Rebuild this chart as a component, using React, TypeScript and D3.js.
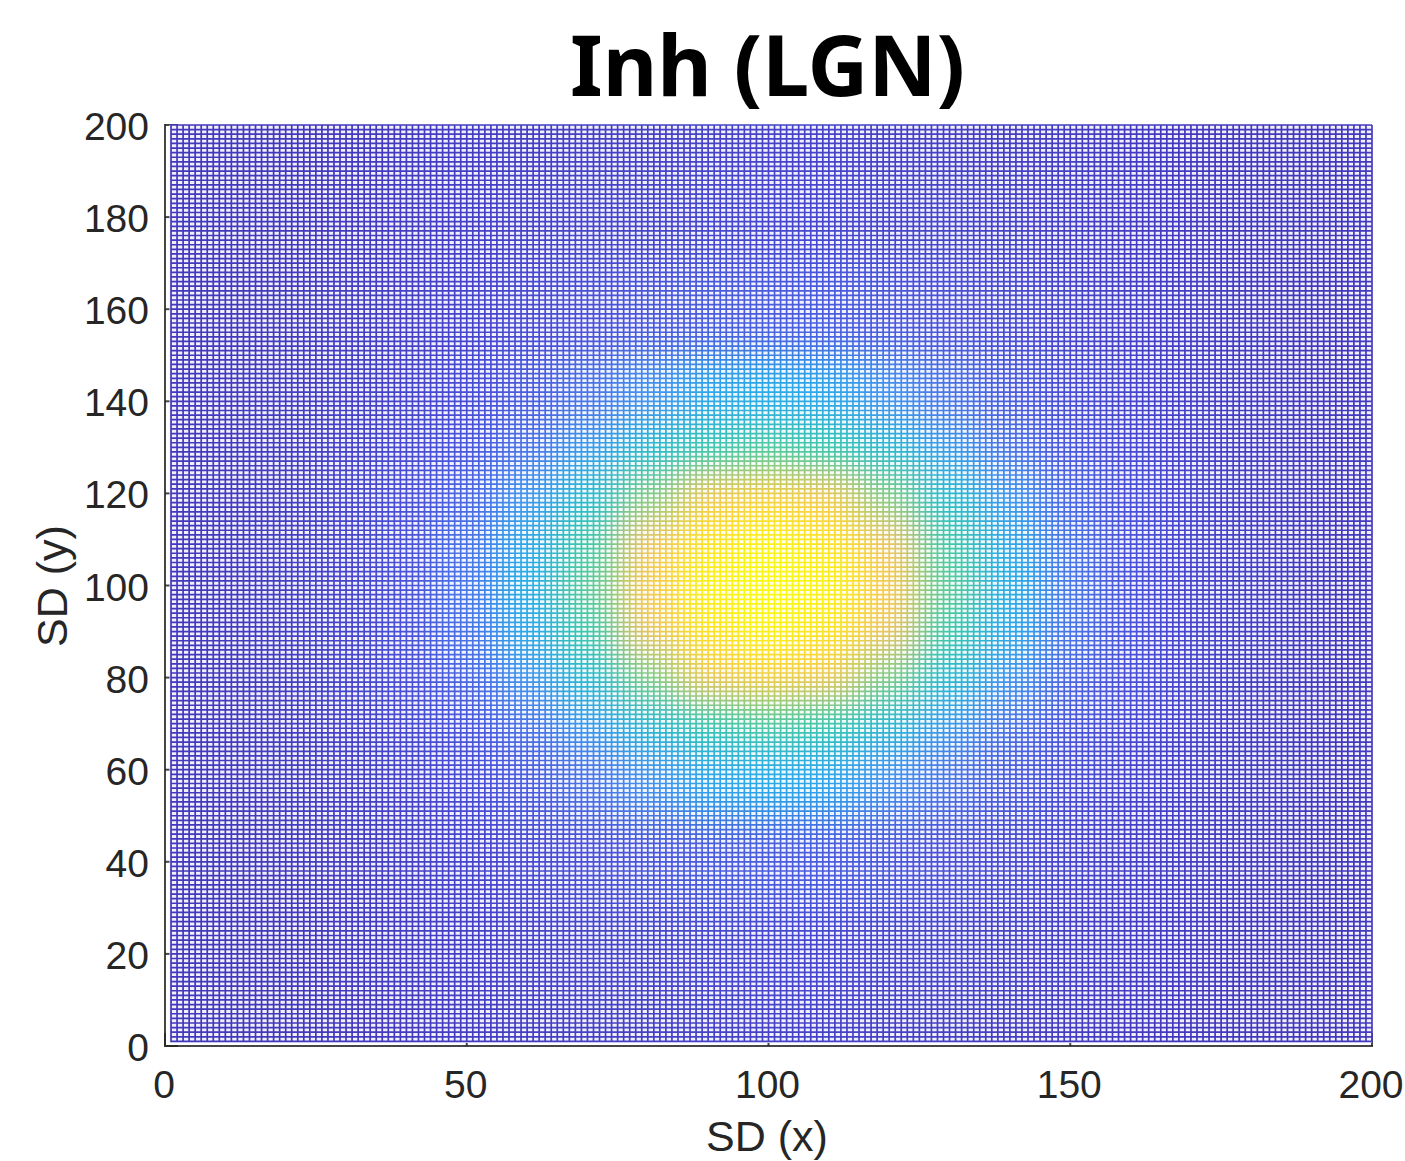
import React from 'react';
import * as d3 from 'd3';

const W = 1405, H = 1161;
const title = 'Inh (LGN)';
const xLabel = 'SD (x)';
const yLabel = 'SD (y)';
const xTicks = [0, 50, 100, 150, 200];
const yTicks = [0, 20, 40, 60, 80, 100, 120, 140, 160, 180, 200];

// colormap anchors as they look on the thin mesh wires
const palette = ['#4030b4', '#4a50d8', '#4c8cf0', '#22b4e6', '#2cc8b4', '#8cd07c', '#f0c464', '#ffcf3c', '#f8fa14'];

// surface height, every 10 SD; rows run y = 0 -> 200, columns x = 0 -> 200
const gridStep = [0, 10, 20, 30, 40, 50, 60, 70, 80, 90, 100, 110, 120, 130, 140, 150, 160, 170, 180, 190, 200];
const row000 = [.03, .03, .03, .03, .04, .05, .05, .06, .06, .07, .07, .07, .06, .06, .05, .05, .04, .03, .03, .03, .03];
const row020 = [.03, .03, .03, .04, .05, .06, .07, .08, .08, .09, .09, .09, .08, .08, .07, .06, .05, .04, .03, .03, .03];
const row040 = [.03, .03, .04, .05, .06, .08, .10, .12, .14, .15, .15, .15, .14, .12, .10, .08, .06, .05, .04, .03, .03];
const row060 = [.03, .04, .05, .06, .08, .11, .15, .20, .27, .33, .35, .33, .27, .20, .15, .11, .08, .06, .05, .04, .03];
const row070 = [.03, .04, .05, .07, .10, .14, .20, .30, .42, .51, .54, .51, .42, .30, .20, .14, .10, .07, .05, .04, .03];
const row080 = [.03, .04, .05, .08, .12, .17, .28, .42, .60, .78, .84, .78, .60, .42, .28, .17, .12, .08, .05, .04, .03];
const row090 = [.03, .04, .06, .08, .13, .20, .34, .52, .75, .93, .98, .93, .75, .52, .34, .20, .13, .08, .06, .04, .03];
const row100 = [.03, .04, .06, .08, .13, .21, .36, .56, .82, .98, 1.0, .98, .82, .56, .36, .21, .13, .08, .06, .04, .03];
const row110 = [.03, .04, .06, .08, .13, .20, .34, .52, .75, .93, .98, .93, .75, .52, .34, .20, .13, .08, .06, .04, .03];
const row120 = [.03, .04, .05, .08, .12, .17, .28, .42, .60, .78, .84, .78, .60, .42, .28, .17, .12, .08, .05, .04, .03];
const row130 = [.03, .04, .05, .07, .10, .14, .20, .30, .42, .51, .54, .51, .42, .30, .20, .14, .10, .07, .05, .04, .03];
const row140 = [.03, .04, .05, .06, .08, .11, .15, .20, .27, .33, .35, .33, .27, .20, .15, .11, .08, .06, .05, .04, .03];
const row160 = [.03, .03, .04, .05, .06, .08, .10, .12, .14, .15, .15, .15, .14, .12, .10, .08, .06, .05, .04, .03, .03];
const row180 = [.03, .03, .03, .04, .05, .06, .07, .08, .08, .09, .09, .09, .08, .08, .07, .06, .05, .04, .03, .03, .03];
const row200 = [.03, .03, .03, .03, .04, .05, .05, .06, .06, .07, .07, .07, .06, .06, .05, .05, .04, .03, .03, .03, .03];
const rows: [number, number[]][] = [
  [0, row000], [20, row020], [40, row040], [60, row060], [70, row070], [80, row080], [90, row090], [100, row100],
  [110, row110], [120, row120], [130, row130], [140, row140], [160, row160], [180, row180], [200, row200],
];

const margin = { left: 165, right: 1372, top: 125, bottom: 1046 };
const x = d3.scaleLinear().domain([0, 200]).range([margin.left, margin.right]);
const y = d3.scaleLinear().domain([0, 200]).range([margin.bottom, margin.top]);
const color = d3.scaleLinear<string>()
  .domain(palette.map((_, i) => i / (palette.length - 1)))
  .range(palette);

const meshLines = d3.range(1, 201);
const font = '"Liberation Sans", Arial, sans-serif';
const ink = '#262626';

export default function App() {
  // mesh wires act as a mask on top of the smoothed surface colours
  const wires =
    meshLines.map(v => `M${x(v)},${y(1) + 0.8}V${y(200)}`).join('') +
    meshLines.map(v => `M${x(1) - 0.8},${y(v)}H${x(200)}`).join('');
  const edges = [-40, ...rows.map(r => r[0]), 240];

  return (
    <svg width={W} height={H} style={{ position: 'absolute', left: 0, top: 0, background: '#fff' }}>
      <defs>
        <filter id="smooth" filterUnits="userSpaceOnUse" x={0} y={0} width={W} height={H} colorInterpolationFilters="sRGB">
          <feGaussianBlur stdDeviation={18} />
        </filter>
        <mask id="wires" maskUnits="userSpaceOnUse" x={0} y={0} width={W} height={H}>
          <rect x={0} y={0} width={W} height={H} fill="#000" />
          <rect x={x(1) - 1.5} y={y(200)} width={x(200) - x(1) + 1.5} height={y(1) - y(200) + 1.5} fill="#fff" fillOpacity={0.08} />
          <path d={wires} fill="none" stroke="#fff" strokeWidth={1.7} />
        </mask>
      </defs>

      {/* axes, box off; the mesh sits on top and hides most of the ticks */}
      <g fill="none" stroke={ink} strokeOpacity={0.85}>
        <path d={`M${margin.left},${margin.top - 1}V${margin.bottom}H${margin.right + 1}`} strokeWidth={2} />
        {xTicks.map(t => <path key={t} d={`M${x(t)},${margin.bottom}v-13`} strokeWidth={2} />)}
        {yTicks.map(t => <path key={t} d={`M${margin.left},${y(t)}h13`} strokeWidth={2} />)}
      </g>
      <rect x={x(1) - 1.5} y={y(200)} width={x(200) - x(1) + 1} height={y(1) - y(200) + 1.5} fill="#fff" />

      <g mask="url(#wires)">
        <g filter="url(#smooth)">
          <rect x={0} y={0} width={W} height={H} fill={color(0.03)} />
          {rows.map(([rowValue, vals], r) => {
            const y0 = (edges[r] + edges[r + 1]) / 2;
            const y1 = (edges[r + 1] + edges[r + 2]) / 2;
            return gridStep.map((c, i) => (
              <rect
                key={`${rowValue}-${c}`}
                x={x(c - 5)}
                y={y(r === rows.length - 1 ? 220 : y1)}
                width={x(c + 5) - x(c - 5) + 0.5}
                height={y(r === 0 ? -20 : y0) - y(r === rows.length - 1 ? 220 : y1) + 0.5}
                fill={color(vals[i])}
              />
            ));
          })}
        </g>
      </g>

      <g fontFamily={font} fontSize={39} fill={ink}>
        {xTicks.map(t => (
          <text key={t} x={x(t) - 1} y={1098} textAnchor="middle">{t}</text>
        ))}
        {yTicks.map(t => (
          <text key={t} x={149} y={y(t) + 15} textAnchor="end">{t}</text>
        ))}
      </g>
      <text x={767} y={1151} textAnchor="middle" fontFamily={font} fontSize={43} fill={ink}>{xLabel}</text>
      <text transform="translate(67,586) rotate(-90)" textAnchor="middle" fontFamily={font} fontSize={43} fill={ink}>{yLabel}</text>
      <text x={767.5} y={96} textAnchor="middle" fontFamily='"Noto Sans", sans-serif' fontWeight="bold" fontSize={84} fill="#000" textLength={395} lengthAdjust="spacingAndGlyphs">{title}</text>
    </svg>
  );
}
